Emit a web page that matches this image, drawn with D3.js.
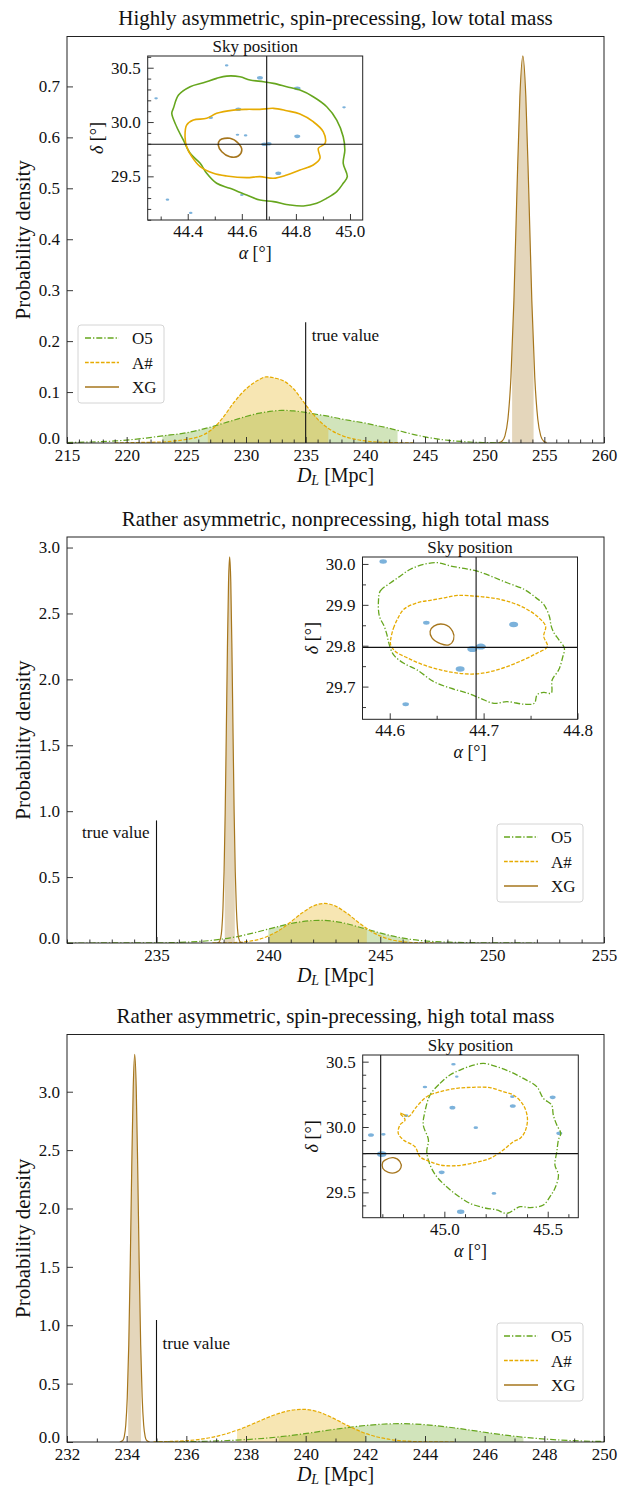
<!DOCTYPE html>
<html>
<head>
<meta charset="utf-8" />
<title>Luminosity distance posteriors</title>
<script src="https://d3js.org/d3.v7.min.js"></script>
<style>
body { margin: 0; background: #fff; }
svg, svg text { font-family: "Liberation Serif", "DejaVu Serif", serif; fill: #111; }
</style>
</head>
<body>
<div id="chart"></div>
<script>
// ---------- data ----------
const titles = [
	"Highly asymmetric, spin-precessing, low total mass",
	"Rather asymmetric, nonprecessing, high total mass",
	"Rather asymmetric, spin-precessing, high total mass"
];
const seriesNames = ["O5", "A#", "XG"];
const trueDL = 235;
const trueSky = [44.692, 29.796];

// panel 1: [D_L, density]
const p1O5 = [[215,0.001],[217,0.002],[219,0.004],[221,0.008],[223,0.014],[225,0.020],[226,0.025],[227,0.031],[228,0.038],[229,0.045],[230,0.052],[231,0.058],[232,0.062],[233,0.064],[234,0.063],[235,0.060],[236,0.056],[237,0.052],[238,0.047],[239,0.043],[240,0.039],[241,0.034],[242,0.029],[243,0.023],[244,0.017],[245,0.012],[246,0.008],[247,0.005],[248,0.003],[249,0.0015],[250,0.0008],[252,0.0002]];
const p1Ash = [[219,0.0003],[221,0.001],[223,0.002],[224,0.004],[225,0.007],[226,0.012],[227,0.024],[228,0.048],[229,0.080],[230,0.106],[231,0.123],[231.7,0.130],[232.5,0.127],[233.3,0.120],[234,0.106],[235,0.075],[236,0.047],[237,0.027],[238,0.015],[239,0.008],[240,0.004],[242,0.001],[244,0.0002]];
const p1XG = [[251.2,0.0006],[251.45,0.0035],[251.7,0.014],[251.95,0.047],[252.2,0.128],[252.45,0.28],[252.7,0.49],[252.95,0.68],[253.2,0.76],[253.45,0.68],[253.7,0.49],[253.95,0.28],[254.2,0.128],[254.45,0.047],[254.7,0.014],[254.95,0.0035],[255.2,0.0006]];
const p1Intervals = [[223.0, 242.7], [226.8, 236.9], [252.3, 254.1]];
const p1XTicks = [215, 220, 225, 230, 235, 240, 245, 250, 255, 260];
const p1YTicks = [0, 0.1, 0.2, 0.3, 0.4, 0.5, 0.6, 0.7];

// panel 1 sky contours: [alpha, delta]
const p1SkyO5 = [[44.347,30.126],[44.366,30.248],[44.409,30.325],[44.458,30.362],[44.507,30.402],[44.544,30.423],[44.593,30.417],[44.630,30.387],[44.680,30.371],[44.717,30.356],[44.766,30.325],[44.815,30.294],[44.864,30.233],[44.914,30.141],[44.951,30.018],[44.975,29.865],[44.981,29.742],[44.975,29.620],[44.990,29.497],[44.975,29.436],[44.951,29.359],[44.914,29.298],[44.877,29.252],[44.828,29.227],[44.778,29.236],[44.717,29.267],[44.667,29.282],[44.618,29.328],[44.556,29.390],[44.507,29.436],[44.470,29.528],[44.446,29.620],[44.409,29.712],[44.384,29.834],[44.359,29.957],[44.341,30.080]];
const p1SkyAsh = [[44.390,29.865],[44.396,29.972],[44.421,30.018],[44.470,30.034],[44.507,30.080],[44.569,30.110],[44.618,30.117],[44.667,30.117],[44.717,30.126],[44.766,30.104],[44.815,30.074],[44.864,30.003],[44.901,29.911],[44.908,29.804],[44.883,29.758],[44.889,29.666],[44.864,29.604],[44.815,29.558],[44.766,29.512],[44.717,29.482],[44.667,29.497],[44.618,29.488],[44.544,29.503],[44.495,29.528],[44.446,29.589],[44.415,29.681],[44.396,29.773]];
const p1SkyXG = [[44.519,29.834],[44.556,29.850],[44.587,29.804],[44.600,29.742],[44.587,29.687],[44.556,29.681],[44.526,29.727],[44.513,29.788]];
// candidate hosts: [alpha, delta, weight]
const p1Hosts = [[44.544,30.521,1],[44.667,30.408,1.8],[44.805,30.310,2],[44.978,30.135,1],[44.283,30.218,1],[44.587,30.117,1.8],[44.485,30.040,1.3],[44.584,29.883,1],[44.614,29.877,1],[44.683,29.795,1.8],[44.699,29.800,1.8],[44.805,29.868,1.8],[44.735,29.528,1.8],[44.600,29.328,1],[44.325,29.285,1],[44.411,29.163,1]];
const p1SkyXTicks = [44.4, 44.6, 44.8, 45.0];
const p1SkyYTicks = [29.5, 30.0, 30.5];

// panel 2
const p2O5 = [[231,0.0001],[233,0.0003],[234.3,0.0006],[235.3,0.0018],[236.3,0.006],[237.3,0.017],[238.3,0.039],[239.3,0.075],[240.3,0.119],[241.3,0.157],[242.3,0.172],[243.3,0.154],[244.3,0.109],[245.3,0.063],[246.3,0.029],[247.3,0.012],[248.3,0.005],[249.3,0.002],[250.5,0.0005],[252,0.0001]];
const p2Ash = [[237.5,0.0003],[238,0.001],[238.5,0.0035],[239,0.010],[239.5,0.024],[240,0.053],[240.5,0.098],[241,0.160],[241.5,0.227],[242,0.28],[242.5,0.30],[243,0.28],[243.5,0.227],[244,0.160],[244.5,0.098],[245,0.053],[245.5,0.024],[246,0.010],[246.5,0.0035],[247,0.001],[247.5,0.0003]];
const p2XG = [[237.67,0],[237.77,0.003],[237.87,0.039],[237.92,0.107],[237.97,0.26],[238.02,0.54],[238.07,0.99],[238.12,1.6],[238.17,2.24],[238.22,2.74],[238.27,2.93],[238.32,2.74],[238.37,2.24],[238.42,1.6],[238.47,0.99],[238.52,0.54],[238.57,0.26],[238.62,0.107],[238.67,0.039],[238.77,0.003],[238.87,0]];
const p2Intervals = [[240.0, 246.3], [240.05, 244.4], [238.05, 238.5]];
const p2XTicks = [235, 240, 245, 250, 255];
const p2YTicks = [0, 0.5, 1.0, 1.5, 2.0, 2.5, 3.0];

const p2SkyO5 = [[44.588,29.909],[44.590,29.934],[44.601,29.954],[44.611,29.970],[44.622,29.987],[44.636,29.999],[44.651,30.003],[44.665,29.995],[44.679,29.989],[44.692,29.983],[44.708,29.970],[44.725,29.954],[44.743,29.938],[44.756,29.917],[44.764,29.901],[44.770,29.872],[44.772,29.848],[44.775,29.831],[44.780,29.815],[44.786,29.794],[44.784,29.770],[44.780,29.741],[44.773,29.716],[44.772,29.684],[44.764,29.686],[44.757,29.680],[44.754,29.659],[44.743,29.657],[44.725,29.663],[44.711,29.659],[44.697,29.671],[44.683,29.684],[44.665,29.696],[44.647,29.712],[44.629,29.741],[44.615,29.757],[44.604,29.778],[44.599,29.807],[44.597,29.827],[44.594,29.848],[44.589,29.872]];
const p2SkyAsh = [[44.601,29.815],[44.604,29.843],[44.608,29.864],[44.615,29.889],[44.629,29.905],[44.643,29.911],[44.658,29.917],[44.672,29.923],[44.692,29.921],[44.708,29.917],[44.725,29.909],[44.743,29.893],[44.757,29.872],[44.766,29.848],[44.764,29.823],[44.768,29.798],[44.757,29.782],[44.743,29.766],[44.725,29.749],[44.708,29.737],[44.692,29.731],[44.672,29.733],[44.654,29.741],[44.636,29.753],[44.619,29.770],[44.606,29.786],[44.601,29.802]];
const p2SkyXG = [[44.647,29.848],[44.658,29.852],[44.667,29.835],[44.668,29.815],[44.663,29.802],[44.654,29.805],[44.645,29.819],[44.643,29.835]];
const p2Hosts = [[44.593,30.006,2.3],[44.639,29.856,2],[44.732,29.852,2.8],[44.688,29.792,3.2],[44.697,29.798,3.2],[44.675,29.743,2.8],[44.617,29.657,2]];
const p2SkyXTicks = [44.6, 44.7, 44.8];
const p2SkyYTicks = [29.7, 29.8, 29.9, 30.0];

// panel 3
const p3O5 = [[235,0.0005],[236.15,0.0035],[237.15,0.0096],[238.15,0.023],[239.15,0.045],[240.15,0.078],[241.15,0.115],[242.15,0.145],[243.15,0.157],[244.15,0.145],[245.15,0.115],[246.15,0.078],[247.15,0.045],[248.15,0.023],[249.15,0.0096],[250,0.004]];
const p3Ash = [[234.9,0.0014],[235.4,0.004],[235.9,0.0096],[236.4,0.021],[236.9,0.042],[237.4,0.075],[237.9,0.120],[238.4,0.174],[238.9,0.227],[239.4,0.266],[239.9,0.28],[240.4,0.26],[240.9,0.207],[241.4,0.142],[241.9,0.084],[242.4,0.043],[242.9,0.019],[243.4,0.007],[243.9,0.0023],[244.4,0.0006],[245,0]];
const p3XG = [[233.77,0],[233.87,0.013],[233.92,0.047],[233.97,0.146],[234.02,0.38],[234.07,0.83],[234.12,1.52],[234.17,2.35],[234.22,3.04],[234.27,3.32],[234.32,3.04],[234.37,2.35],[234.42,1.52],[234.47,0.83],[234.52,0.38],[234.57,0.146],[234.62,0.047],[234.67,0.013],[234.77,0]];
const p3Intervals = [[239.1, 247.3], [237.7, 242.0], [234.05, 234.48]];
const p3XTicks = [232, 234, 236, 238, 240, 242, 244, 246, 248, 250];
const p3YTicks = [0, 0.5, 1.0, 1.5, 2.0, 2.5, 3.0];

const p3SkyO5 = [[44.931,30.245],[44.979,30.334],[45.027,30.398],[45.076,30.436],[45.132,30.469],[45.189,30.487],[45.253,30.462],[45.318,30.423],[45.382,30.372],[45.447,30.309],[45.479,30.219],[45.519,30.168],[45.527,30.092],[45.544,30.015],[45.563,29.952],[45.552,29.901],[45.544,29.811],[45.535,29.709],[45.552,29.633],[45.535,29.531],[45.511,29.467],[45.479,29.403],[45.415,29.383],[45.366,29.390],[45.302,29.339],[45.253,29.365],[45.189,29.383],[45.124,29.416],[45.060,29.480],[45.011,29.543],[44.963,29.620],[44.931,29.709],[44.915,29.811],[44.923,29.901],[44.898,30.015],[44.906,30.117]];
const p3SkyAsh = [[44.785,30.105],[44.802,30.097],[44.826,30.079],[44.866,30.156],[44.915,30.232],[44.979,30.270],[45.060,30.296],[45.140,30.304],[45.221,30.301],[45.285,30.270],[45.334,30.245],[45.382,30.168],[45.402,30.066],[45.390,29.964],[45.366,29.913],[45.334,29.888],[45.285,29.824],[45.221,29.760],[45.156,29.730],[45.060,29.704],[44.979,29.709],[44.931,29.735],[44.882,29.773],[44.858,29.849],[44.802,29.901],[44.777,29.952],[44.785,30.015],[44.810,30.054]];
const p3SkyXG = [[44.713,29.747],[44.753,29.765],[44.785,29.735],[44.790,29.689],[44.766,29.653],[44.729,29.653],[44.702,29.684],[44.702,29.730]];
const p3Hosts = [[45.044,30.480,1.3],[45.060,30.385,1],[44.906,30.306,1.3],[45.039,30.148,1.8],[45.329,30.232,1.3],[45.331,30.161,1.8],[45.524,30.227,1.8],[45.152,29.995,1.3],[44.815,30.087,1.3],[44.645,29.939,1.8],[44.705,29.944,1.3],[44.697,29.793,3],[44.987,29.653,1.8],[45.240,29.492,1.3],[45.079,29.352,2.3],[45.556,29.952,1.8]];
const p3SkyXTicks = [45.0, 45.5];
const p3SkyYTicks = [29.5, 30.0, 30.5];

// ---------- layout ----------
const panels = [
	{ title: titles[0], top: 36.5, bottom: 443, xDomain: [215, 260], yMax: 0.798, xMinor: 1,
	  series: [p1O5, p1Ash, p1XG], intervals: p1Intervals, xTicks: p1XTicks, yTicks: p1YTicks,
	  trueTop: 0.237, trueLabel: { y: 0.2, side: "right" }, legend: { x: 78, y: 325 },
	  inset: { l: 147.7, r: 362.7, t: 56, b: 220, ax: [44.252, 45.047], dy: [29.098, 30.608],
	           xTicks: p1SkyXTicks, yTicks: p1SkyYTicks, xMinor: 0.1, yMinor: 0.1, dashed: false,
	           contours: [p1SkyO5, p1SkyAsh, p1SkyXG], hosts: p1Hosts } },
	{ title: titles[1], top: 537, bottom: 943, xDomain: [231, 255], yMax: 3.08, xMinor: 1,
	  series: [p2O5, p2Ash, p2XG], intervals: p2Intervals, xTicks: p2XTicks, yTicks: p2YTicks,
	  trueTop: 0.93, trueLabel: { y: 0.80, side: "left" }, legend: { x: 497, y: 824 },
	  inset: { l: 362.5, r: 577.5, t: 557, b: 719.3, ax: [44.571, 44.80], dy: [29.62, 30.017],
	           xTicks: p2SkyXTicks, yTicks: p2SkyYTicks, xMinor: 0.05, yMinor: 0.05, dashed: true,
	           contours: [p2SkyO5, p2SkyAsh, p2SkyXG], hosts: p2Hosts } },
	{ title: titles[2], top: 1034.5, bottom: 1442, xDomain: [232, 250], yMax: 3.49, xMinor: 1,
	  series: [p3O5, p3Ash, p3XG], intervals: p3Intervals, xTicks: p3XTicks, yTicks: p3YTicks,
	  trueTop: 1.045, trueLabel: { y: 0.794, side: "right" }, legend: { x: 497, y: 1323 },
	  inset: { l: 362.7, r: 578.3, t: 1055, b: 1217.7, ax: [44.605, 45.648], dy: [29.306, 30.551],
	           xTicks: p3SkyXTicks, yTicks: p3SkyYTicks, xMinor: 0.1, yMinor: 0.1, dashed: true,
	           contours: [p3SkyO5, p3SkyAsh, p3SkyXG], hosts: p3Hosts } }
];

const colors = { "O5": "#66a61e", "A#": "#e6ab02", "XG": "#a6761d" };
const dashes = { "O5": "6,2,1.3,2", "A#": "3.7,1.6", "XG": null };
const serif = "'Liberation Serif', 'DejaVu Serif', serif";
const L = 67, R = 604;

const svg = d3.select("#chart").append("svg")
	.attr("width", 629).attr("height", 1488)
	.style("background", "#fff")
	.style("font-family", serif);
const defs = svg.append("defs");

const styleAxis = (sel, size) => {
	sel.attr("font-family", serif).attr("font-size", size);
	sel.select(".domain").remove();
	sel.selectAll("line").attr("stroke", "#222").attr("stroke-width", 0.9);
	sel.selectAll("text").attr("fill", "#111");
};

const minorVals = (domain, step) => {
	const a = Math.ceil(domain[0] / step - 1e-6), b = Math.floor(domain[1] / step + 1e-6);
	return d3.range(a, b + 1).map(k => +(k * step).toFixed(4));
};

panels.forEach((p, i) => {
	const x = d3.scaleLinear().domain(p.xDomain).range([L, R]);
	const y = d3.scaleLinear().domain([0, p.yMax]).range([p.bottom, p.top]);
	const g = svg.append("g");

	defs.append("clipPath").attr("id", "ax" + i).append("rect")
		.attr("x", L).attr("y", p.top).attr("width", R - L).attr("height", p.bottom - p.top);

	// title
	g.append("text").attr("x", (L + R) / 2).attr("y", p.top - 11.5)
		.attr("text-anchor", "middle").attr("font-size", 21).text(p.title);

	// credible-interval fills
	const area = d3.area().x(d => x(d[0])).y0(y(0)).y1(d => y(d[1])).curve(d3.curveMonotoneX);
	const line = d3.line().x(d => x(d[0])).y(d => y(d[1])).curve(d3.curveMonotoneX);
	p.series.forEach((s, k) => {
		const name = seriesNames[k];
		const [lo, hi] = p.intervals[k];
		const cid = `ci${i}_${k}`;
		defs.append("clipPath").attr("id", cid).append("rect")
			.attr("x", x(lo)).attr("y", p.top).attr("width", x(hi) - x(lo)).attr("height", p.bottom - p.top);
		g.append("path").datum(s).attr("d", area)
			.attr("fill", colors[name]).attr("fill-opacity", 0.3)
			.attr("clip-path", `url(#${cid})`);
	});
	p.series.forEach((s, k) => {
		const name = seriesNames[k];
		g.append("path").datum(s).attr("d", line)
			.attr("fill", "none").attr("stroke", colors[name]).attr("stroke-width", 1.2)
			.attr("stroke-dasharray", dashes[name])
			.attr("clip-path", `url(#ax${i})`);
	});

	// true value
	g.append("line").attr("x1", x(trueDL)).attr("x2", x(trueDL))
		.attr("y1", y(0)).attr("y2", y(p.trueTop))
		.attr("stroke", "#111").attr("stroke-width", 1.1);
	const right = p.trueLabel.side === "right";
	g.append("text").attr("x", x(trueDL) + (right ? 6 : -7)).attr("y", y(p.trueLabel.y))
		.attr("text-anchor", right ? "start" : "end").attr("font-size", 17).text("true value");

	// axes
	const xa = g.append("g").attr("transform", `translate(0,${p.bottom})`)
		.call(d3.axisBottom(x).tickValues(p.xTicks).tickSize(-6).tickPadding(6).tickFormat(d3.format("d")));
	styleAxis(xa, 17);
	const xm = g.append("g").attr("transform", `translate(0,${p.bottom})`)
		.call(d3.axisBottom(x).tickValues(minorVals(p.xDomain, p.xMinor).filter(v => !p.xTicks.includes(v)))
			.tickSize(-3.5).tickFormat(""));
	styleAxis(xm, 17);
	const ya = g.append("g").attr("transform", `translate(${L},0)`)
		.call(d3.axisLeft(y).tickValues(p.yTicks).tickSize(-6).tickPadding(7).tickFormat(d3.format(".1f")));
	styleAxis(ya, 17);
	// the bottom label sits a little higher, clear of the first x label
	ya.selectAll(".tick text").filter(d => d === 0).attr("dy", "0.05em");

	g.append("rect").attr("x", L).attr("y", p.top).attr("width", R - L).attr("height", p.bottom - p.top)
		.attr("fill", "none").attr("stroke", "#222").attr("stroke-width", 1);

	// axis labels
	const xl = g.append("text").attr("x", (L + R) / 2).attr("y", p.bottom + 39)
		.attr("text-anchor", "middle").attr("font-size", 20);
	xl.append("tspan").attr("font-style", "italic").text("D");
	xl.append("tspan").attr("font-style", "italic").attr("font-size", 14).attr("dy", 3).text("L");
	xl.append("tspan").attr("dy", -3).text(" [Mpc]");
	g.append("text").attr("transform", `translate(30,${(p.top + p.bottom) / 2}) rotate(-90)`)
		.attr("text-anchor", "middle").attr("font-size", 21).text("Probability density");

	// legend
	const lg = g.append("g").attr("transform", `translate(${p.legend.x},${p.legend.y})`);
	lg.append("rect").attr("width", 86).attr("height", 78).attr("rx", 3)
		.attr("fill", "#fff").attr("fill-opacity", 0.85).attr("stroke", "#d4d4d4");
	seriesNames.forEach((name, k) => {
		const yy = 13 + k * 24.5;
		lg.append("line").attr("x1", 7).attr("x2", 41).attr("y1", yy).attr("y2", yy)
			.attr("stroke", colors[name]).attr("stroke-width", 1.5).attr("stroke-dasharray", dashes[name]);
		lg.append("text").attr("x", 54).attr("y", yy + 6).attr("font-size", 17).text(name);
	});

	// sky-position inset
	const s = p.inset;
	const ix = d3.scaleLinear().domain(s.ax).range([s.l, s.r]);
	const iy = d3.scaleLinear().domain(s.dy).range([s.b, s.t]);
	const ig = svg.append("g");
	defs.append("clipPath").attr("id", "in" + i).append("rect")
		.attr("x", s.l).attr("y", s.t).attr("width", s.r - s.l).attr("height", s.b - s.t);
	ig.append("rect").attr("x", s.l).attr("y", s.t).attr("width", s.r - s.l).attr("height", s.b - s.t)
		.attr("fill", "#fff");
	const inner = ig.append("g").attr("clip-path", `url(#in${i})`);

	const rxs = d3.scaleLinear().domain([1, 3.5]).range([1.8, 5.5]);
	inner.selectAll("ellipse").data(s.hosts).join("ellipse")
		.attr("cx", d => ix(d[0])).attr("cy", d => iy(d[1]))
		.attr("rx", d => rxs(d[2])).attr("ry", d => rxs(d[2]) * 0.6)
		.attr("fill", "#5b9fd2").attr("fill-opacity", 0.8);

	const cline = d3.line().x(d => ix(d[0])).y(d => iy(d[1])).curve(d3.curveCatmullRomClosed.alpha(0.5));
	s.contours.forEach((c, k) => {
		const name = seriesNames[k];
		inner.append("path").datum(c).attr("d", cline)
			.attr("fill", "none").attr("stroke", colors[name])
			.attr("stroke-width", s.dashed ? 1.3 : 1.6)
			.attr("stroke-dasharray", s.dashed ? dashes[name] : null);
	});

	inner.append("line").attr("x1", ix(trueSky[0])).attr("x2", ix(trueSky[0]))
		.attr("y1", s.t).attr("y2", s.b).attr("stroke", "#111").attr("stroke-width", 1.1);
	inner.append("line").attr("x1", s.l).attr("x2", s.r)
		.attr("y1", iy(trueSky[1])).attr("y2", iy(trueSky[1])).attr("stroke", "#111").attr("stroke-width", 1.1);

	const ixa = ig.append("g").attr("transform", `translate(0,${s.b})`)
		.call(d3.axisBottom(ix).tickValues(s.xTicks).tickSize(-6).tickPadding(5).tickFormat(d3.format(".1f")));
	styleAxis(ixa, 17);
	const ixm = ig.append("g").attr("transform", `translate(0,${s.b})`)
		.call(d3.axisBottom(ix).tickValues(minorVals(s.ax, s.xMinor).filter(v => !s.xTicks.some(t => Math.abs(t - v) < 1e-6)))
			.tickSize(-3.5).tickFormat(""));
	styleAxis(ixm, 17);
	const iya = ig.append("g").attr("transform", `translate(${s.l},0)`)
		.call(d3.axisLeft(iy).tickValues(s.yTicks).tickSize(-6).tickPadding(7).tickFormat(d3.format(".1f")));
	styleAxis(iya, 17);
	const iym = ig.append("g").attr("transform", `translate(${s.l},0)`)
		.call(d3.axisLeft(iy).tickValues(minorVals(s.dy, s.yMinor).filter(v => !s.yTicks.some(t => Math.abs(t - v) < 1e-6)))
			.tickSize(-3.5).tickFormat(""));
	styleAxis(iym, 17);

	ig.append("rect").attr("x", s.l).attr("y", s.t).attr("width", s.r - s.l).attr("height", s.b - s.t)
		.attr("fill", "none").attr("stroke", "#222").attr("stroke-width", 1);

	ig.append("text").attr("x", (s.l + s.r) / 2).attr("y", s.t - 4.5)
		.attr("text-anchor", "middle").attr("font-size", 17).text("Sky position");
	const al = ig.append("text").attr("x", (s.l + s.r) / 2).attr("y", s.b + 39)
		.attr("text-anchor", "middle").attr("font-size", 18);
	al.append("tspan").attr("font-style", "italic").text("α");
	al.append("tspan").text(" [°]");
	const dl = ig.append("text").attr("transform", `translate(${s.l - 45},${(s.t + s.b) / 2}) rotate(-90)`)
		.attr("text-anchor", "middle").attr("font-size", 18);
	dl.append("tspan").attr("font-style", "italic").text("δ");
	dl.append("tspan").text(" [°]");
});

// every label in the serif face
svg.selectAll("text").style("font-family", serif);
</script>
</body>
</html>
